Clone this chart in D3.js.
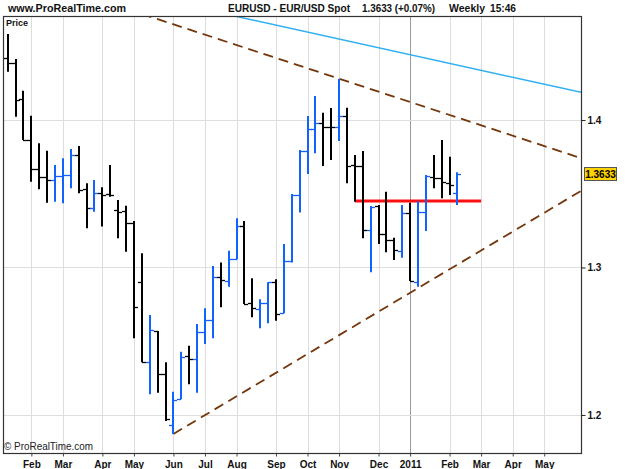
<!DOCTYPE html>
<html>
<head>
<meta charset="utf-8">
<script src="https://cdn.jsdelivr.net/npm/d3@7"></script>
<style>
  body { margin: 0; background: #fff; }
  svg { display: block; font-family: "Liberation Sans", Arial, sans-serif; }
</style>
</head>
<body>
<script>
// weekly EUR/USD bars, first week starts Monday 2010-01-11
const firstWeek = "2010-01-11";
const opens  = [1.4418,1.4384,1.4142,1.3864,1.3666,1.3616,1.3593,1.3620,1.3625,1.3761,
                1.3530,1.3405,1.3503,1.3497,1.3390,1.3383,1.3304,1.2904,1.2357,1.2569,
                1.2278,1.1932,1.2106,1.2400,1.2378,1.2561,1.2644,1.2934,1.2910,1.3056,
                1.3281,1.2757,1.2717,1.2757,1.2900,1.2689,1.3046,1.3492,1.3792,1.3937,
                1.3978,1.3955,1.3955,1.4029,1.3695,1.3688,1.3254,1.3417,1.3225,1.3186,
                1.3114,1.3372,1.2904,1.3378,1.3616,1.3609,1.3571,1.3507];
const highs  = [1.4583,1.4414,1.4199,1.4029,1.3842,1.3792,1.3695,1.3740,1.3803,1.3824,
                1.3571,1.3593,1.3544,1.3695,1.3458,1.3419,1.3315,1.3096,1.2678,1.2569,
                1.2357,1.2158,1.2429,1.2470,1.2617,1.2723,1.3010,1.3033,1.3114,1.3334,
                1.3315,1.2927,1.2784,1.2900,1.2920,1.3159,1.3498,1.3797,1.4027,1.4163,
                1.4049,1.4081,1.4278,1.4083,1.3763,1.3790,1.3417,1.3424,1.3514,1.3202,
                1.3424,1.3439,1.3451,1.3627,1.3763,1.3864,1.3751,1.3645];
const lows   = [1.4327,1.4022,1.3864,1.3582,1.3530,1.3439,1.3446,1.3435,1.3537,1.3503,
                1.3266,1.3378,1.3277,1.3480,1.3198,1.3107,1.2520,1.2357,1.2140,1.2151,
                1.1959,1.1871,1.2106,1.2208,1.2151,1.2481,1.2520,1.2730,1.2870,1.3056,
                1.2753,1.2662,1.2588,1.2622,1.2639,1.2689,1.3033,1.3372,1.3634,1.3774,
                1.3688,1.3729,1.3858,1.3571,1.3446,1.3198,1.2967,1.3159,1.3103,1.3051,
                1.3066,1.2908,1.2870,1.3247,1.3537,1.3469,1.3492,1.3424];
const closes = [1.4384,1.4136,1.3864,1.3666,1.3616,1.3593,1.3620,1.3625,1.3761,1.3525,
                1.3405,1.3503,1.3494,1.3490,1.3378,1.3304,1.2734,1.2357,1.2576,1.2278,
                1.1971,1.2102,1.2395,1.2378,1.2561,1.2644,1.2934,1.2915,1.3056,1.3281,
                1.2753,1.2723,1.2757,1.2900,1.2685,1.3046,1.3492,1.3792,1.3937,1.3978,
                1.3955,1.3951,1.4029,1.3690,1.3688,1.3254,1.3412,1.3225,1.3186,1.3119,
                1.3372,1.2908,1.3378,1.3622,1.3609,1.3582,1.3559,1.3633];

const monthTicks  = ["2010-02-01","2010-03-01","2010-04-05","2010-05-03","2010-06-07","2010-07-05",
                     "2010-08-02","2010-09-06","2010-10-04","2010-11-01","2010-12-06","2011-01-03",
                     "2011-02-07","2011-03-07","2011-04-04","2011-05-02"];
const monthLabels = ["Feb","Mar","Apr","May","Jun","Jul","Aug","Sep","Oct","Nov","Dec","2011",
                     "Feb","Mar","Apr","May"];
const yearTick = "2011-01-03";
const priceTicks = [1.2, 1.3, 1.4];

// drawn lines: [date, price] pairs
const upperTrend = [["2010-05-10", 1.4719], ["2011-06-13", 1.3718]];
const lowerTrend = [["2010-06-07", 1.1871], ["2011-06-13", 1.3562]];
const blueTrend  = [["2010-05-10", 1.4843], ["2011-06-13", 1.4172]];
const redLevel   = [["2010-11-15", 1.3451], ["2011-03-07", 1.3451]];

const lastPrice = 1.3633;
const headerParts = [
  { text: "www.ProRealTime.com", x: 8, w: 118 },
  { text: "EURUSD - EUR/USD Spot", x: 228, w: 122 },
  { text: "1.3633 (+0.07%)", x: 362, w: 73 },
  { text: "Weekly", x: 449, w: 36 },
  { text: "15:46", x: 490, w: 26 }
];

const W = 625, H = 469;
const plot = { left: 3, top: 16, right: 581, bottom: 453 };
const parse = d3.utcParse("%Y-%m-%d");

const start = parse(firstWeek);
const weeks = d3.utcMonday.range(start, d3.utcMonday.offset(start, opens.length));
const bars = weeks.map((d, i) => ({ date: d, o: opens[i], h: highs[i], l: lows[i], c: closes[i] }));

const x = d3.scaleUtc()
  .domain([start, parse("2011-01-03")])
  .range([7.7, 410.1]);
const y = d3.scaleLinear()
  .domain([1.1742, 1.4705])
  .range([plot.bottom, plot.top]);

const svg = d3.select("body").append("svg")
  .attr("width", W).attr("height", H);

svg.append("defs").append("clipPath").attr("id", "clip")
  .append("rect")
  .attr("x", plot.left).attr("y", plot.top)
  .attr("width", plot.right - plot.left).attr("height", plot.bottom - plot.top);

// header
svg.selectAll(".hdr").data(headerParts).enter().append("text")
  .attr("class", "hdr")
  .attr("x", d => d.x).attr("y", 12)
  .attr("font-size", 11).attr("font-weight", "bold").attr("fill", "#111")
  .attr("textLength", d => d.w).attr("lengthAdjust", "spacingAndGlyphs")
  .text(d => d.text);

// grid
const grid = svg.append("g");
grid.selectAll(".vg").data(monthTicks).enter().append("line")
  .attr("x1", d => Math.round(x(parse(d))) + 0.5)
  .attr("x2", d => Math.round(x(parse(d))) + 0.5)
  .attr("y1", plot.top).attr("y2", plot.bottom)
  .attr("stroke", d => d === yearTick ? "#9a9a9a" : "#dedede")
  .attr("stroke-width", 1);
grid.selectAll(".hg").data(priceTicks).enter().append("line")
  .attr("x1", plot.left).attr("x2", plot.right)
  .attr("y1", d => Math.round(y(d)) + 0.5)
  .attr("y2", d => Math.round(y(d)) + 0.5)
  .attr("stroke", "#dedede");

// trend lines
const lineGen = d3.line().x(d => x(parse(d[0]))).y(d => y(d[1]));
const lines = svg.append("g").attr("clip-path", "url(#clip)");
lines.append("path").attr("d", lineGen(blueTrend))
  .attr("fill", "none").attr("stroke", "#2fb0f0").attr("stroke-width", 1.5);
[upperTrend, lowerTrend].forEach(t => {
  lines.append("path").attr("d", lineGen(t))
    .attr("fill", "none").attr("stroke", "#74360a")
    .attr("stroke-width", 1.8).attr("stroke-dasharray", "10,6");
});

// OHLC bars
const gBars = svg.append("g").attr("clip-path", "url(#clip)");
const bar = gBars.selectAll(".bar").data(bars).enter().append("g")
  .attr("stroke", d => d.c >= d.o ? "#1262ff" : "#000")
  .attr("stroke-width", 2);
bar.append("line")
  .attr("x1", d => Math.round(x(d.date))).attr("x2", d => Math.round(x(d.date)))
  .attr("y1", d => y(d.h)).attr("y2", d => y(d.l));
bar.append("line")
  .attr("x1", d => Math.round(x(d.date)) - 4).attr("x2", d => Math.round(x(d.date)))
  .attr("y1", d => Math.round(y(d.o)) + 0.5).attr("y2", d => Math.round(y(d.o)) + 0.5)
  .attr("stroke-width", 1.3);
bar.append("line")
  .attr("x1", d => Math.round(x(d.date))).attr("x2", d => Math.round(x(d.date)) + 4)
  .attr("y1", d => Math.round(y(d.c)) + 0.5).attr("y2", d => Math.round(y(d.c)) + 0.5)
  .attr("stroke-width", 1.3);

// red horizontal level
lines.append("path").attr("d", lineGen(redLevel))
  .attr("fill", "none").attr("stroke", "#ff1010").attr("stroke-width", 3);

// frame
svg.append("rect")
  .attr("x", plot.left + 0.5).attr("y", plot.top + 0.5)
  .attr("width", plot.right - plot.left).attr("height", plot.bottom - plot.top)
  .attr("fill", "none").attr("stroke", "#333").attr("stroke-width", 1.2);

svg.append("text").attr("x", 6).attr("y", 26)
  .attr("font-size", 9).attr("font-weight", "bold").attr("fill", "#111")
  .text("Price");
svg.append("text").attr("x", 4).attr("y", 450)
  .attr("font-size", 10).attr("fill", "#222")
  .attr("textLength", 89).attr("lengthAdjust", "spacingAndGlyphs")
  .text("© ProRealTime.com");

// right price axis
const yAxis = d3.axisRight(y).tickValues(priceTicks).tickSize(4).tickPadding(2)
  .tickFormat(d3.format(".1f"));
svg.append("g").attr("transform", `translate(${plot.right + 0.5},0)`)
  .call(yAxis)
  .call(g => g.select(".domain").remove())
  .call(g => g.selectAll("line").attr("stroke", "#222"))
  .call(g => g.selectAll("text").attr("font-size", 10).attr("font-weight", "bold")
    .attr("fill", "#111").attr("font-family", "Liberation Sans, Arial, sans-serif"));

// bottom month axis
const xAxis = d3.axisBottom(x).tickValues(monthTicks.map(parse)).tickSize(3).tickPadding(4)
  .tickFormat((d, i) => monthLabels[i]);
svg.append("g").attr("transform", `translate(0,${plot.bottom + 0.5})`)
  .call(xAxis)
  .call(g => g.select(".domain").remove())
  .call(g => g.selectAll("line").attr("stroke", "#444"))
  .call(g => g.selectAll("text").attr("font-size", 10).attr("font-weight", "bold")
    .attr("fill", "#111").attr("font-family", "Liberation Sans, Arial, sans-serif"));

// last price box
const lp = svg.append("g").attr("transform", `translate(584,${Math.round(y(lastPrice))})`);
lp.append("rect").attr("x", 0.5).attr("y", -6.5).attr("width", 32).attr("height", 13)
  .attr("fill", "#ffd200").attr("stroke", "#555");
lp.append("text").attr("x", 16.5).attr("y", 4)
  .attr("text-anchor", "middle").attr("font-size", 10).attr("font-weight", "bold")
  .attr("fill", "#000").text(lastPrice.toFixed(4));
</script>
</body>
</html>
